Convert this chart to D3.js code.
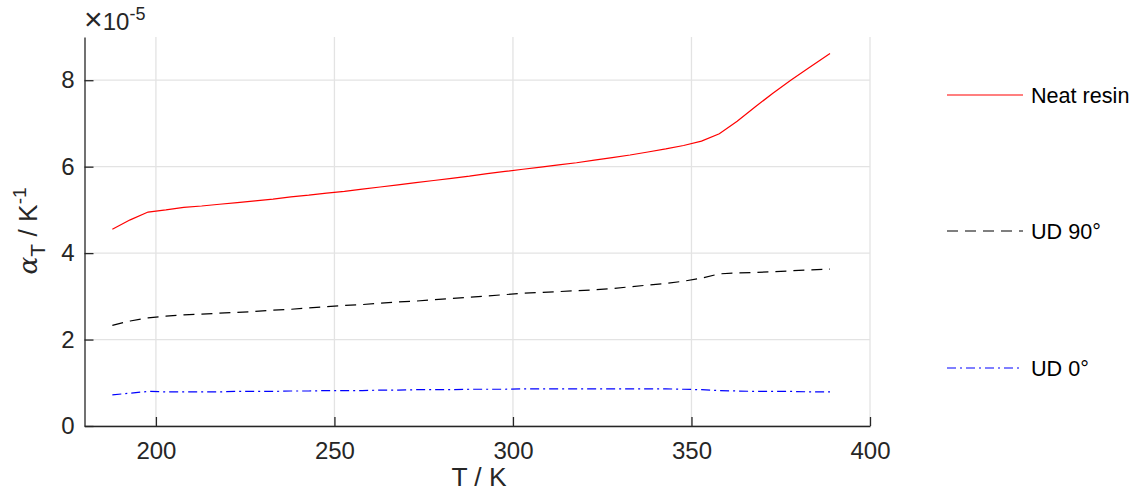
<!DOCTYPE html>
<html><head><meta charset="utf-8">
<script src="https://cdn.jsdelivr.net/npm/d3@7"></script>
<style>body{margin:0;background:#fff}svg{display:block;font-family:"Liberation Sans",Arial,sans-serif}</style>
</head><body><svg id="c" width="1135" height="493"></svg>
<script>
const temps = [187.8,192.8,197.8,202.8,207.8,212.8,217.8,222.8,227.8,232.8,237.8,242.8,247.8,252.8,257.8,262.8,267.8,272.8,277.8,282.8,287.8,292.8,297.8,302.8,307.8,312.8,317.8,322.8,327.8,332.8,337.8,342.8,347.8,352.8,357.8,362.8,367.8,372.8,377.8,382.8,388.8];
const neatResin = [4.55,4.77,4.95,5.00,5.06,5.09,5.13,5.17,5.21,5.25,5.30,5.34,5.39,5.43,5.48,5.53,5.58,5.63,5.68,5.73,5.78,5.84,5.89,5.94,5.99,6.04,6.09,6.15,6.21,6.27,6.34,6.41,6.49,6.59,6.76,7.05,7.38,7.70,8.00,8.28,8.62];
const ud90 = [2.33,2.43,2.50,2.54,2.57,2.59,2.61,2.63,2.65,2.68,2.70,2.73,2.76,2.79,2.81,2.84,2.87,2.89,2.92,2.95,2.98,3.01,3.04,3.07,3.09,3.11,3.13,3.15,3.18,3.22,3.26,3.30,3.35,3.42,3.52,3.54,3.55,3.57,3.59,3.61,3.63];
const ud0 = [0.72,0.76,0.80,0.79,0.79,0.79,0.79,0.80,0.80,0.80,0.81,0.81,0.82,0.82,0.82,0.83,0.83,0.84,0.84,0.84,0.85,0.85,0.85,0.86,0.86,0.86,0.86,0.86,0.86,0.86,0.86,0.86,0.85,0.84,0.82,0.81,0.80,0.80,0.80,0.79,0.79];
const seriesNames = ["Neat resin","UD 90°","UD 0°"];
const xTicks = [200,250,300,350,400];
const yTicks = [0,2,4,6,8];

const svg = d3.select("#c");
const x = d3.scaleLinear().domain([180,400]).range([84.5,870]);
const y = d3.scaleLinear().domain([0,9]).range([426,37]);

// grid
const g = svg.append("g");
g.selectAll(".vg").data(xTicks).enter().append("line")
 .attr("x1",d=>x(d)).attr("x2",d=>x(d)).attr("y1",y(0)).attr("y2",y(9))
 .attr("stroke","#e3e3e3").attr("stroke-width",1.3);
g.selectAll(".hg").data(yTicks).enter().append("line")
 .attr("x1",x(180)).attr("x2",x(400)).attr("y1",d=>y(d)).attr("y2",d=>y(d))
 .attr("stroke","#e3e3e3").attr("stroke-width",1.3);

// axes
const xAxis = d3.axisBottom(x).tickValues(xTicks).tickSizeInner(-9).tickSizeOuter(0).tickPadding(16);
const yAxis = d3.axisLeft(y).tickValues(yTicks).tickSizeInner(-9).tickSizeOuter(0).tickPadding(10);
const gx = svg.append("g").attr("transform",`translate(0,${y(0)})`).call(xAxis);
const gy = svg.append("g").attr("transform",`translate(${x(180)},0)`).call(yAxis);
[gx,gy].forEach(a=>{
  a.select(".domain").attr("stroke","#262626").attr("stroke-width",1.3);
  a.selectAll(".tick line").attr("stroke","#262626").attr("stroke-width",1.3);
  a.selectAll(".tick text").attr("fill","#262626").style("font-size","24px").style("font-family","'Liberation Sans',Arial,sans-serif");
});

// lines
const series = [
  {name:seriesNames[0], vals:neatResin, color:"#ff0000", dash:null},
  {name:seriesNames[1], vals:ud90, color:"#000000", dash:"11,7"},
  {name:seriesNames[2], vals:ud0, color:"#0000ff", dash:"9,4,2,4"}
];
const line = d3.line().x(d=>x(d[0])).y(d=>y(d[1]));
series.forEach(s=>{
  svg.append("path").datum(temps.map((t,i)=>[t,s.vals[i]]))
   .attr("d",line).attr("fill","none").attr("stroke",s.color).attr("stroke-width",1.2)
   .attr("stroke-dasharray",s.dash);
});

// legend
const legY = [95,231,368];
series.forEach((s,i)=>{
  svg.append("line").attr("x1",947).attr("x2",1023).attr("y1",legY[i]).attr("y2",legY[i])
   .attr("stroke",s.color).attr("stroke-width",1.2).attr("stroke-dasharray",s.dash);
  svg.append("text").attr("x",1031).attr("y",legY[i]+8).text(s.name)
   .style("font-size","21.6px").attr("fill","#000");
});

// axis labels
svg.append("text").attr("x",479).attr("y",486).attr("text-anchor","middle")
 .style("font-size","26.4px").attr("fill","#262626").text("T / K");
const yl = svg.append("text").attr("transform","translate(37,231) rotate(-90)").attr("text-anchor","middle")
 .style("font-size","26.4px").attr("fill","#262626");
yl.append("tspan").style("font-family","'DejaVu Serif',serif").style("font-style","italic").text("α");
yl.append("tspan").attr("dy",8).style("font-size","21px").text("T");
yl.append("tspan").attr("dy",-8).text(" / K");
yl.append("tspan").attr("dy",-11).style("font-size","19px").text("-1");

// exponent
const ex = svg.append("text").attr("x",84).attr("y",30).style("font-size","24px").attr("fill","#262626");
ex.append("tspan").style("font-size","32px").attr("dy",0).text("×");
ex.append("tspan").attr("dy",0).text("10");
ex.append("tspan").attr("dy",-10).style("font-size","18px").text("-5");
</script></body></html>
